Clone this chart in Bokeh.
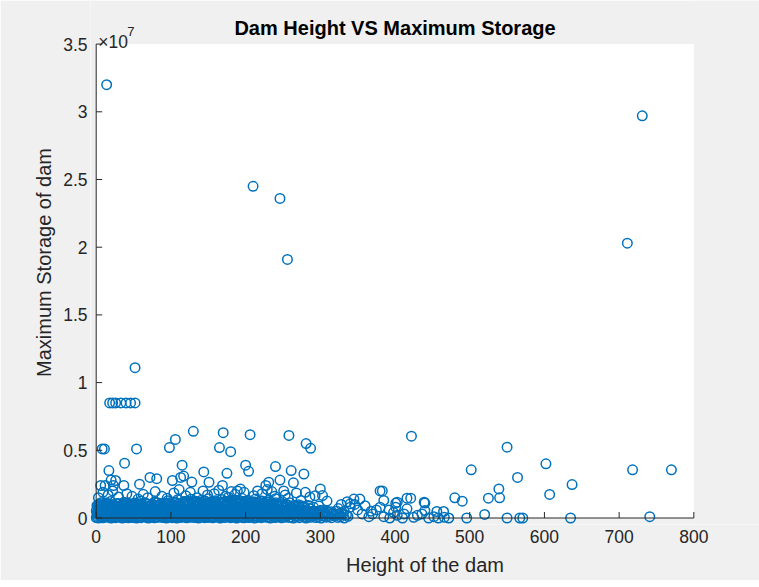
import math
from bokeh.plotting import figure
from bokeh.models import Label, FixedTicker, CustomJSTickFormatter, BoxAnnotation
from bokeh.embed import file_html
from bokeh.resources import INLINE

# ---- data: dam height (x) and maximum storage (x 1e7) ----
# visible / isolated points
out_h = [14, 210, 246, 256, 731, 711, 52,
         18, 22, 26, 33, 40, 46, 52,
         8, 11, 54, 38, 130, 98, 106, 115, 117, 170,
         165, 180, 175, 206, 200, 204, 258, 281, 287, 240,
         261, 278, 246, 264, 144, 17, 72, 81, 102, 113,
         128, 300, 303, 353, 380, 26, 20, 12, 23, 37,
         6, 58, 151, 169, 227, 231, 251, 280, 189, 177,
         422, 550, 502, 602, 564, 718, 770, 637, 607, 539,
         540, 525, 480, 490, 520, 496, 550, 567, 571, 635,
         741, 416, 421, 440, 440, 456, 465, 383, 385, 401,
         401, 416, 385, 393, 403, 410, 425, 430, 445, 452,
         458, 466, 472, 398, 412, 436, 370, 375, 365, 360,
         368, 380, 392, 350, 356, 346, 340, 336, 332, 328,
         324, 345, 403, 439, 340]
out_s = [3.20, 2.45, 2.36, 1.91, 2.97, 2.03, 1.11,
         0.85, 0.85, 0.85, 0.85, 0.85, 0.85, 0.85,
         0.51, 0.51, 0.51, 0.405, 0.64, 0.52, 0.58, 0.39, 0.31, 0.63,
         0.52, 0.49, 0.33, 0.615, 0.39, 0.345, 0.61, 0.55, 0.515, 0.38,
         0.35, 0.325, 0.28, 0.26, 0.34, 0.35, 0.30, 0.29, 0.277, 0.30,
         0.265, 0.215, 0.166, 0.14, 0.20, 0.277, 0.28, 0.24, 0.24, 0.24,
         0.24, 0.25, 0.264, 0.24, 0.24, 0.264, 0.20, 0.19, 0.20, 0.154,
         0.604, 0.523, 0.356, 0.40, 0.30, 0.356, 0.356, 0.247, 0.174, 0.215,
         0.149, 0.146, 0.149, 0.124, 0.026, 0.0, 0.0, 0.0, 0.0, 0.0,
         0.01, 0.146, 0.146, 0.11, 0.055, 0.048, 0.048, 0.20, 0.13, 0.11,
         0.08, 0.068, 0.01, 0.0, 0.02, 0.0, 0.005, 0.02, 0.0, 0.01,
         0.0, 0.005, 0.0, 0.04, 0.03, 0.03, 0.03, 0.06, 0.01, 0.09,
         0.05, 0.08, 0.06, 0.06, 0.03, 0.10, 0.08, 0.12, 0.05, 0.10,
         0.07, 0.14, 0.117, 0.117, 0.105]

# dense cluster, lowest band
base_h = [0, 1, 3, 4, 6, 8, 9, 11, 13, 15,
          17, 18, 20, 23, 25, 26, 28, 31, 33, 35,
          36, 38, 41, 43, 44, 46, 49, 51, 52, 54,
          57, 59, 60, 62, 65, 67, 68, 70, 73, 75,
          76, 78, 81, 83, 85, 86, 89, 91, 92, 94,
          97, 99, 100, 102, 105, 107, 108, 110, 113, 115,
          116, 118, 121, 123, 125, 126, 129, 131, 132, 134,
          137, 139, 140, 142, 145, 147, 148, 150, 153, 155,
          156, 158, 161, 163, 165, 166, 169, 171, 172, 174,
          177, 179, 180, 182, 185, 187, 188, 190, 193, 195,
          196, 198, 201, 203, 205, 207, 210, 212, 214, 217,
          219, 221, 224, 226, 228, 231, 233, 236, 238, 240,
          243, 245, 248, 250, 253, 256, 258, 261, 264, 266,
          269, 272, 275, 278, 281, 284, 287, 290, 294, 297,
          301, 304, 308, 311, 315, 319, 323, 327, 332, 337]
base_s = [0.003, 0.012, 0.0, 0.018, 0.006, 0.01, 0.001, 0.015, 0.008, 0.02,
          0.004, 0.013, 0.0, 0.009, 0.017, 0.002, 0.011, 0.006, 0.019, 0.0,
          0.014, 0.005, 0.01, 0.001, 0.016, 0.008, 0.003, 0.018, 0.012, 0.0,
          0.007, 0.015, 0.002, 0.011, 0.019, 0.004, 0.009, 0.0, 0.013, 0.006,
          0.017, 0.001, 0.01, 0.005, 0.014, 0.02, 0.003, 0.008, 0.016, 0.0,
          0.012, 0.006, 0.018, 0.002, 0.009, 0.015, 0.0, 0.011, 0.004, 0.019,
          0.007, 0.013, 0.001, 0.016, 0.005, 0.01, 0.02, 0.003, 0.014, 0.008,
          0.0, 0.017, 0.006, 0.011, 0.002, 0.019, 0.009, 0.004, 0.015, 0.012,
          0.001, 0.008, 0.018, 0.005, 0.013, 0.0, 0.01, 0.016, 0.003, 0.02,
          0.007, 0.014, 0.002, 0.011, 0.006, 0.017, 0.0, 0.009, 0.015, 0.004,
          0.012, 0.001, 0.019, 0.008, 0.003, 0.014, 0.01, 0.0, 0.016, 0.006,
          0.013, 0.002, 0.009, 0.018, 0.005, 0.011, 0.0, 0.015, 0.007, 0.003,
          0.017, 0.01, 0.001, 0.013, 0.006, 0.019, 0.004, 0.008, 0.0, 0.014,
          0.011, 0.002, 0.016, 0.007, 0.0, 0.012, 0.005, 0.018, 0.003, 0.009,
          0.0, 0.014, 0.006, 0.01, 0.002, 0.016, 0.004, 0.008, 0.0, 0.012]

# dense cluster, second band
low2_h = [2, 5, 7, 10, 12, 14, 16, 19, 21, 24,
          27, 29, 32, 34, 37, 39, 42, 45, 47, 50,
          53, 55, 58, 61, 63, 66, 69, 71, 74, 77,
          79, 82, 84, 87, 90, 93, 95, 98, 101, 103,
          106, 109, 111, 114, 117, 119, 122, 124, 127, 130,
          133, 135, 138, 141, 143, 146, 149, 151, 154, 157,
          159, 162, 164, 167, 170, 173, 175, 178, 181, 183,
          186, 189, 191, 194, 197, 199, 202, 204, 208, 211,
          213, 216, 218, 222, 225, 227, 230, 234, 237, 239,
          242, 246, 249, 252, 255, 259, 262, 265, 268, 271,
          274, 277, 280, 283, 286, 289, 292, 296, 299, 303,
          306, 310, 314, 318, 322, 326, 330, 335]
low2_s = [0.03, 0.022, 0.041, 0.027, 0.036, 0.02, 0.044, 0.033, 0.025, 0.039,
          0.029, 0.043, 0.021, 0.035, 0.026, 0.04, 0.031, 0.024, 0.045, 0.034,
          0.023, 0.038, 0.028, 0.042, 0.032, 0.02, 0.037, 0.026, 0.044, 0.03,
          0.041, 0.025, 0.035, 0.021, 0.039, 0.029, 0.043, 0.024, 0.034, 0.027,
          0.038, 0.022, 0.032, 0.045, 0.026, 0.036, 0.02, 0.04, 0.03, 0.023,
          0.042, 0.028, 0.037, 0.025, 0.033, 0.044, 0.021, 0.031, 0.039, 0.027,
          0.035, 0.024, 0.043, 0.029, 0.022, 0.038, 0.032, 0.041, 0.026, 0.036,
          0.02, 0.034, 0.045, 0.028, 0.039, 0.023, 0.031, 0.042, 0.025, 0.037,
          0.03, 0.044, 0.022, 0.035, 0.027, 0.04, 0.033, 0.021, 0.038, 0.029,
          0.043, 0.024, 0.036, 0.031, 0.02, 0.039, 0.026, 0.034, 0.028, 0.041,
          0.023, 0.035, 0.03, 0.021, 0.037, 0.025, 0.032, 0.027, 0.022, 0.033,
          0.026, 0.02, 0.031, 0.024, 0.028, 0.021, 0.025, 0.022]

# dense cluster, third band
mid3_h = [0, 3, 5, 8, 11, 13, 16, 19, 22, 24,
          27, 30, 32, 35, 38, 41, 43, 46, 49, 51,
          54, 57, 60, 62, 65, 68, 70, 73, 76, 79,
          81, 84, 87, 89, 92, 95, 98, 100, 103, 106,
          108, 111, 114, 117, 119, 122, 125, 127, 130, 133,
          136, 138, 141, 144, 146, 149, 152, 155, 157, 160,
          163, 165, 168, 171, 174, 176, 179, 182, 184, 187,
          190, 193, 195, 198, 201, 203, 206, 209, 212, 214,
          217, 220, 222, 225, 228, 231, 233, 236, 239, 241,
          244, 247, 250, 253, 256, 259, 262, 266, 269, 272,
          276, 279, 283, 287, 291, 295, 299, 304, 309, 315]
mid3_s = [0.052, 0.061, 0.047, 0.058, 0.064, 0.05, 0.056, 0.046, 0.062, 0.054,
          0.049, 0.06, 0.053, 0.045, 0.063, 0.057, 0.048, 0.059, 0.051, 0.065,
          0.055, 0.046, 0.062, 0.05, 0.058, 0.047, 0.064, 0.053, 0.057, 0.049,
          0.061, 0.052, 0.045, 0.06, 0.054, 0.063, 0.048, 0.056, 0.051, 0.059,
          0.046, 0.064, 0.053, 0.049, 0.062, 0.055, 0.047, 0.058, 0.05, 0.061,
          0.056, 0.045, 0.063, 0.052, 0.059, 0.048, 0.054, 0.065, 0.051, 0.057,
          0.047, 0.06, 0.053, 0.064, 0.049, 0.058, 0.055, 0.046, 0.062, 0.051,
          0.057, 0.048, 0.061, 0.054, 0.045, 0.063, 0.05, 0.059, 0.053, 0.06,
          0.052, 0.064, 0.047, 0.056, 0.061, 0.049, 0.058, 0.054, 0.046, 0.062,
          0.055, 0.05, 0.059, 0.047, 0.057, 0.052, 0.048, 0.055, 0.05, 0.046,
          0.053, 0.049, 0.051, 0.047, 0.052, 0.048, 0.05, 0.046, 0.049, 0.047]

# dense cluster, middle band
mid_h = [1, 4, 7, 10, 14, 17, 20, 24, 27, 30,
         34, 37, 40, 44, 47, 50, 54, 57, 60, 64,
         67, 70, 74, 77, 80, 84, 87, 90, 94, 97,
         100, 104, 107, 110, 114, 117, 120, 124, 127, 130,
         134, 137, 140, 144, 147, 150, 154, 157, 160, 164,
         167, 170, 174, 177, 180, 184, 187, 190, 194, 197,
         200, 204, 207, 210, 214, 217, 220, 224, 227, 230,
         234, 237, 240, 244, 247, 250, 254, 257, 260, 264,
         267, 271, 275, 279, 283, 287, 291, 296, 301, 306,
         311, 316, 322, 328]
mid_s = [0.04, 0.062, 0.031, 0.055, 0.072, 0.036, 0.05, 0.067, 0.028, 0.058,
         0.045, 0.07, 0.033, 0.061, 0.048, 0.026, 0.065, 0.052, 0.039, 0.074,
         0.03, 0.057, 0.046, 0.068, 0.035, 0.06, 0.027, 0.053, 0.071, 0.042,
         0.064, 0.032, 0.049, 0.073, 0.038, 0.056, 0.029, 0.066, 0.044, 0.059,
         0.034, 0.07, 0.051, 0.027, 0.063, 0.041, 0.075, 0.047, 0.031, 0.058,
         0.069, 0.037, 0.054, 0.028, 0.066, 0.043, 0.072, 0.035, 0.06, 0.048,
         0.03, 0.064, 0.052, 0.074, 0.039, 0.057, 0.026, 0.068, 0.045, 0.061,
         0.033, 0.071, 0.05, 0.036, 0.063, 0.042, 0.058, 0.029, 0.067, 0.046,
         0.055, 0.032, 0.061, 0.04, 0.052, 0.028, 0.048, 0.036, 0.057, 0.03,
         0.044, 0.034, 0.05, 0.038]

# dense cluster, fourth band
mid2_h = [3, 6, 9, 13, 16, 20, 23, 26, 30, 33,
          36, 40, 43, 47, 50, 53, 57, 60, 63, 67,
          70, 74, 77, 80, 84, 87, 91, 94, 97, 101,
          104, 108, 111, 114, 118, 121, 125, 128, 131, 135,
          138, 142, 145, 148, 152, 155, 159, 162, 165, 169,
          172, 176, 179, 182, 186, 189, 193, 196, 199, 203,
          206, 210, 213, 216, 220, 223, 227, 230, 233, 237,
          240, 244, 247, 251, 256, 261, 266, 272, 278, 285]
mid2_s = [0.078, 0.095, 0.07, 0.088, 0.102, 0.074, 0.091, 0.083, 0.106, 0.072,
          0.097, 0.08, 0.109, 0.076, 0.093, 0.085, 0.101, 0.071, 0.089, 0.104,
          0.079, 0.096, 0.073, 0.11, 0.086, 0.099, 0.075, 0.092, 0.107, 0.081,
          0.115, 0.087, 0.103, 0.077, 0.121, 0.094, 0.112, 0.082, 0.118, 0.098,
          0.108, 0.076, 0.124, 0.09, 0.113, 0.084, 0.119, 0.1, 0.079, 0.116,
          0.093, 0.122, 0.081, 0.105, 0.127, 0.088, 0.114, 0.096, 0.12, 0.083,
          0.11, 0.078, 0.117, 0.091, 0.125, 0.085, 0.106, 0.119, 0.08, 0.1,
          0.112, 0.087, 0.098, 0.076, 0.094, 0.082, 0.09, 0.074, 0.086, 0.071]

# dense cluster, fifth band
mid4_h = [1, 4, 8, 11, 14, 18, 21, 25, 28, 31,
          35, 38, 41, 45, 48, 52, 55, 58, 62, 65,
          68, 72, 75, 79, 82, 85, 89, 92, 95, 99,
          102, 106, 109, 112, 116, 119, 122, 126, 129, 133,
          136, 139, 143, 146, 149, 153, 156, 160, 163, 166,
          170, 173, 176, 180, 183, 187, 190, 193, 197, 200,
          203, 207, 210, 214, 217, 220, 224, 227, 230, 234,
          237, 241, 244, 248, 252, 256, 261, 265, 270, 276]
mid4_s = [0.092, 0.103, 0.087, 0.098, 0.11, 0.089, 0.1, 0.094, 0.107, 0.086,
          0.099, 0.111, 0.09, 0.104, 0.095, 0.088, 0.108, 0.097, 0.091, 0.113,
          0.101, 0.087, 0.105, 0.093, 0.112, 0.096, 0.089, 0.109, 0.1, 0.115,
          0.094, 0.118, 0.102, 0.09, 0.114, 0.106, 0.12, 0.097, 0.111, 0.123,
          0.103, 0.117, 0.093, 0.125, 0.108, 0.099, 0.121, 0.112, 0.095, 0.119,
          0.105, 0.124, 0.098, 0.116, 0.11, 0.122, 0.101, 0.118, 0.107, 0.126,
          0.096, 0.114, 0.121, 0.103, 0.117, 0.092, 0.112, 0.106, 0.099, 0.109,
          0.095, 0.104, 0.088, 0.098, 0.091, 0.097, 0.086, 0.093, 0.089, 0.087]

# dense cluster, upper band
upper_h = [2, 6, 11, 15, 19, 24, 28, 33, 37, 42,
           46, 51, 55, 60, 64, 69, 73, 78, 82, 87,
           91, 96, 100, 105, 109, 114, 118, 123, 127, 132,
           136, 141, 145, 150, 154, 159, 163, 168, 172, 177,
           181, 186, 190, 195, 199, 204, 208, 213, 217, 222,
           226, 231, 235, 240, 244, 249, 254, 259, 265, 271,
           277, 284, 291, 298]
upper_s = [0.09, 0.112, 0.082, 0.1, 0.121, 0.087, 0.106, 0.078, 0.117, 0.095,
           0.084, 0.11, 0.098, 0.125, 0.08, 0.104, 0.091, 0.118, 0.086, 0.108,
           0.099, 0.128, 0.083, 0.114, 0.135, 0.092, 0.122, 0.105, 0.139, 0.088,
           0.116, 0.131, 0.096, 0.142, 0.109, 0.127, 0.085, 0.137, 0.119, 0.101,
           0.133, 0.094, 0.124, 0.145, 0.107, 0.129, 0.089, 0.14, 0.115, 0.126,
           0.097, 0.132, 0.111, 0.143, 0.093, 0.12, 0.102, 0.113, 0.087, 0.098,
           0.081, 0.092, 0.079, 0.088]

# sparse points above the cluster
top_h = [3, 9, 16, 22, 30, 41, 48, 56, 63, 69,
         79, 88, 95, 104, 111, 120, 126, 135, 143, 149,
         158, 164, 173, 181, 186, 193, 198, 211, 216, 222,
         229, 235, 239, 253, 257, 268, 274, 286, 293, 309]
top_s = [0.15, 0.19, 0.17, 0.2, 0.155, 0.18, 0.16, 0.14, 0.175, 0.15,
         0.195, 0.16, 0.145, 0.185, 0.21, 0.165, 0.19, 0.15, 0.2, 0.17,
         0.18, 0.205, 0.16, 0.195, 0.175, 0.215, 0.19, 0.165, 0.2, 0.18,
         0.21, 0.195, 0.16, 0.17, 0.145, 0.185, 0.13, 0.155, 0.165, 0.125]

x_ticks = [0, 100, 200, 300, 400, 500, 600, 700, 800]
y_ticks = [0, 0.5, 1, 1.5, 2, 2.5, 3, 3.5]

heights = (base_h + low2_h + mid3_h + mid_h + mid2_h + mid4_h + upper_h
           + top_h + out_h)
storage = (base_s + low2_s + mid3_s + mid_s + mid2_s + mid4_s + upper_s
           + top_s + out_s)

FONT = "Liberation Sans"
AX = "#262626"
BG = "#f0f0f0"
X0, X1 = x_ticks[0], x_ticks[-1]
Y0, Y1 = y_ticks[0], y_ticks[-1]

# frame covers the whole area right of/above the axes; the part outside the
# axes box is painted in the figure colour
p = figure(width=759, height=580, x_range=(-7.63, 887.9), y_range=(-0.048, 3.822),
           output_backend="svg", toolbar_location=None, title=None,
           min_border_left=90, min_border_right=0, min_border_top=0,
           min_border_bottom=56, background_fill_color="white",
           border_fill_color=BG, outline_line_color=None)
p.grid.visible = False

for kw in (dict(top=Y0), dict(bottom=Y1), dict(right=X0), dict(left=X1)):
    p.add_layout(BoxAnnotation(fill_color=BG, fill_alpha=1, line_color=None,
                               level="underlay", **kw))

p.scatter(heights, storage, marker="circle", size=9.5, fill_color=None,
          line_color="#0072BD", line_width=1.5)

# axis lines and inward ticks
p.segment(x0=[X0, X0], y0=[Y0, Y0], x1=[X1, X0], y1=[Y0, Y1], line_color=AX, line_width=1)
p.ray(x=x_ticks, y=[Y0] * len(x_ticks), length=6, length_units="screen",
      angle=math.pi / 2, line_color=AX, line_width=1)
p.ray(x=[X0] * len(y_ticks), y=y_ticks, length=6, length_units="screen",
      angle=0, line_color=AX, line_width=1)

for ax in (p.xaxis[0], p.yaxis[0]):
    ax.axis_line_color = None
    ax.major_tick_line_color = None
    ax.minor_tick_line_color = None
    ax.major_tick_in = 0
    ax.major_tick_out = 0
    ax.major_label_text_font = FONT
    ax.major_label_text_font_size = "17.5px"
    ax.major_label_text_color = AX
    ax.axis_label_text_font = FONT
    ax.axis_label_text_font_size = "20px"
    ax.axis_label_text_font_style = "normal"
    ax.axis_label_text_color = AX

p.xaxis.ticker = FixedTicker(ticks=x_ticks)
p.yaxis.ticker = FixedTicker(ticks=y_ticks)
p.yaxis.formatter = CustomJSTickFormatter(code="return tick.toString();")
p.xaxis.major_label_standoff = 5
p.yaxis.major_label_standoff = 3
p.xaxis.axis_label = "Height of the dam"
p.yaxis.axis_label = "Maximum Storage of dam"
p.xaxis.axis_label_standoff = 8
p.yaxis.axis_label_standoff = 5

p.add_layout(Label(x=400, y=Y1, y_offset=16.5, text="Dam Height VS Maximum Storage",
                   text_align="center", text_baseline="middle",
                   text_font=FONT, text_font_style="bold",
                   text_font_size="20px", text_color="#000000"))
p.add_layout(Label(x=X0, y=Y1, x_offset=2, y_offset=1.8, text="×10",
                   text_align="left", text_baseline="alphabetic",
                   text_font=FONT, text_font_size="17.5px", text_color=AX))
p.add_layout(Label(x=X0, y=Y1, x_offset=31, y_offset=12.5, text="7",
                   text_align="left", text_baseline="alphabetic",
                   text_font=FONT, text_font_size="13px", text_color=AX))

open("out.html", "w").write(file_html(p, INLINE))
